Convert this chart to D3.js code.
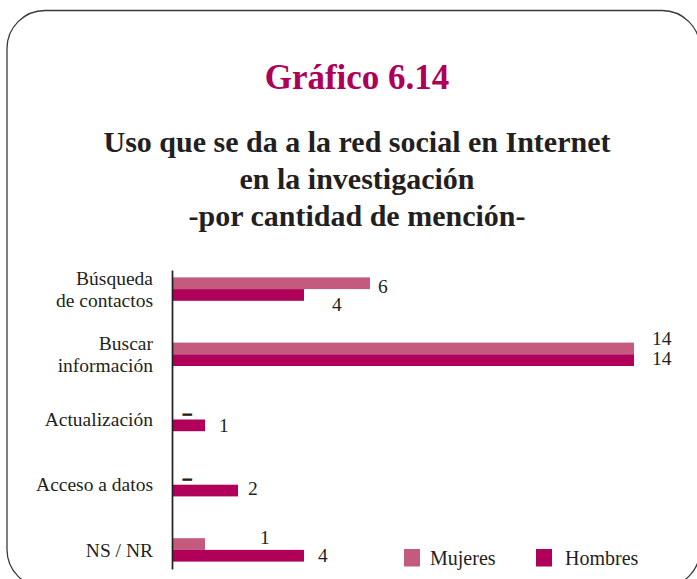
<!DOCTYPE html>
<html>
<head>
<meta charset="utf-8">
<script src="https://cdn.jsdelivr.net/npm/d3@7"></script>
<style>
  html, body { margin: 0; padding: 0; background: #fff; }
  svg { display: block; }
  text { font-family: "Liberation Serif", "Times New Roman", serif; }
</style>
</head>
<body>
<svg id="chart" width="697" height="579"></svg>
<script>
// Categories (top to bottom) and the wrapped label lines shown on the axis
const categories = ["Búsqueda de contactos", "Buscar información", "Actualización", "Acceso a datos", "NS / NR"];
const categoryLines = [["Búsqueda", "de contactos"], ["Buscar", "información"], ["Actualización"], ["Acceso a datos"], ["NS / NR"]];

// Mentions by sex
const series = ["Mujeres", "Hombres"];
const mujeres = [6, 14, 0, 0, 1];
const hombres = [4, 14, 1, 2, 4];

const titleText = "Gráfico 6.14";
const subtitleLines = ["Uso que se da a la red social en Internet", "en la investigación", "-por cantidad de mención-"];

const colors = { Mujeres: "#C45A7E", Hombres: "#B0005A" };
// Small hand placements for a few value labels (key: series|category index)
const labelNudge = {
  "Mujeres|0": { dx: -6, dy: 3 },
  "Hombres|0": { dx: 14, dy: 9 },
  "Mujeres|1": { dx: 4, dy: -10 },
  "Hombres|1": { dx: 4, dy: -2 },
  "Hombres|3": { dx: -4, dy: -2 },
  "Mujeres|4": { dx: 41, dy: -7 }
};

const svg = d3.select("#chart");

// Rounded frame
svg.append("rect")
  .attr("x", 7).attr("y", 10.5)
  .attr("width", 693).attr("height", 577)
  .attr("rx", 38).attr("ry", 38)
  .attr("fill", "none")
  .attr("stroke", "#3a3a3a")
  .attr("stroke-width", 1.3);

// Titles
const cx = 357;
svg.append("text")
  .attr("x", cx).attr("y", 89)
  .attr("text-anchor", "middle")
  .attr("font-size", 35)
  .attr("font-weight", "bold")
  .attr("fill", "#AE0058")
  .text(titleText);

svg.append("g").selectAll("text")
  .data(subtitleLines)
  .join("text")
  .attr("x", cx)
  .attr("y", (d, i) => 152 + i * 37)
  .attr("text-anchor", "middle")
  .attr("font-size", 30)
  .attr("font-weight", "bold")
  .attr("fill", "#231F20")
  .text(d => d);

// Scales
const x = d3.scaleLinear()
  .domain([0, d3.max(mujeres.concat(hombres))])
  .range([172, 634]);

const y = d3.scalePoint()
  .domain(categories)
  .range([270, 569])
  .padding(0.293);

const barH = 11.7;
const ySub = d3.scaleBand()
  .domain(series)
  .range([-barH, barH])
  .paddingInner(0).paddingOuter(0);

const rows = [];
categories.forEach((c, i) => {
  rows.push({ cat: c, idx: i, s: "Mujeres", v: mujeres[i] });
  rows.push({ cat: c, idx: i, s: "Hombres", v: hombres[i] });
});

// Bars
svg.append("g").selectAll("rect")
  .data(rows.filter(d => d.v > 0))
  .join("rect")
  .attr("x", x(0))
  .attr("y", d => y(d.cat) + ySub(d.s))
  .attr("width", d => x(d.v) - x(0))
  .attr("height", ySub.bandwidth())
  .attr("fill", d => colors[d.s]);

// Category axis
const axis = svg.append("g")
  .attr("transform", `translate(${x(0)},0)`)
  .call(d3.axisLeft(y).tickSize(0).tickSizeOuter(0).tickPadding(19));

axis.select(".domain")
  .attr("stroke", "#231F20")
  .attr("stroke-width", 1.7);

axis.selectAll(".tick text")
  .attr("font-family", "Liberation Serif, serif")
  .attr("font-size", 19.5)
  .attr("fill", "#231F20")
  .each(function (d) {
    const lines = categoryLines[categories.indexOf(d)];
    const t = d3.select(this);
    t.text(null).attr("dy", null);
    lines.forEach((line, i) => {
      t.append("tspan")
        .attr("x", -19)
        .attr("dy", i === 0 ? (0.32 - (lines.length - 1) * 0.55) + "em" : "1.1em")
        .text(line);
    });
  });

// Value labels ("–" for zero)
svg.append("g").selectAll("text")
  .data(rows)
  .join("text")
  .attr("x", d => {
    const n = labelNudge[d.s + "|" + d.idx] || { dx: 0 };
    return d.v > 0 ? x(d.v) + 14 + n.dx : x(0) + 11;
  })
  .attr("y", d => {
    const n = labelNudge[d.s + "|" + d.idx] || { dy: 0 };
    const mid = y(d.cat) + ySub(d.s) + ySub.bandwidth() / 2;
    return d.v > 0 ? mid + n.dy : mid - 0.5;
  })
  .attr("dy", "0.34em")
  .attr("font-size", d => d.v > 0 ? 19.5 : 17)
  .attr("font-weight", d => d.v > 0 ? "normal" : "bold")
  .attr("stroke", d => d.v > 0 ? null : "#231F20")
  .attr("stroke-width", d => d.v > 0 ? null : 0.9)
  .attr("fill", "#231F20")
  .text(d => d.v > 0 ? d.v : "–");

// Legend
const legend = svg.append("g")
  .selectAll("g")
  .data(series)
  .join("g")
  .attr("transform", (d, i) => `translate(${404 + i * 132},549)`);

legend.append("rect")
  .attr("width", 16).attr("height", 17.5)
  .attr("fill", d => colors[d]);

legend.append("text")
  .attr("x", (d, i) => 26 + i * 3).attr("y", 16)
  .attr("font-size", 20)
  .attr("fill", "#231F20")
  .text(d => d);
</script>
</body>
</html>
